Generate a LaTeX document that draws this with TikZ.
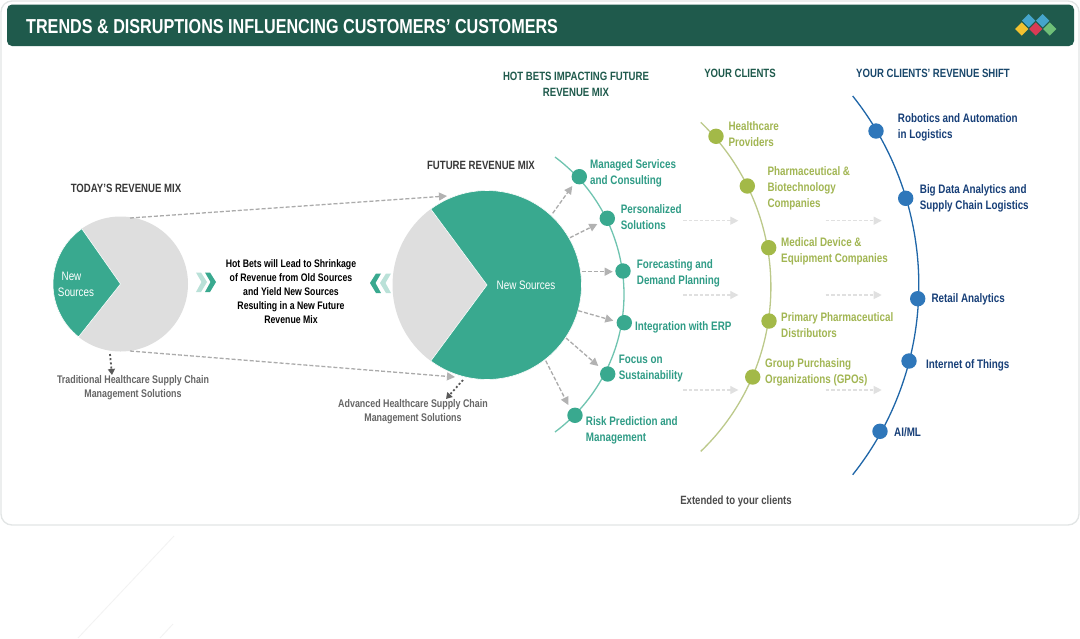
\documentclass[tikz,border=0pt]{standalone}
\usepackage{fontspec}
\setmainfont[FakeStretch=0.8,BoldFont={Liberation Sans Bold},BoldFeatures={FakeStretch=0.8}]{Liberation Sans}
\usetikzlibrary{arrows.meta,shapes.geometric}
\definecolor{headbar}{HTML}{1F5A4C}
\definecolor{tealc}{HTML}{39A98F}
\definecolor{tealtxt}{HTML}{2F9C86}
\definecolor{tealarc}{HTML}{6FC4B0}
\definecolor{olive}{HTML}{A3B948}
\definecolor{olivetxt}{HTML}{A2B653}
\definecolor{olivearc}{HTML}{BCC98A}
\definecolor{bluec}{HTML}{2F77BA}
\definecolor{bluearc}{HTML}{1F66A8}
\definecolor{bluetxt}{HTML}{173F78}
\definecolor{pie}{HTML}{DEDEDE}
\definecolor{cardline}{HTML}{E2E5E5}
\definecolor{lgblue}{HTML}{45A5CC}
\definecolor{lgyellow}{HTML}{F2C230}
\definecolor{lgred}{HTML}{D93A55}
\definecolor{lggreen}{HTML}{6FBF78}
\newcommand{\lbl}[1]{\fontsize{#1}{16}\selectfont\bfseries}
\tikzset{
  x=1pt,y=-1pt,
  tdot/.style={circle,draw=none,fill=tealc,minimum size=15.4pt,inner sep=0pt},
  odot/.style={circle,draw=none,fill=olive,minimum size=15.4pt,inner sep=0pt},
  bdot/.style={circle,draw=none,fill=bluec,minimum size=15.4pt,inner sep=0pt},
  ttext/.style={anchor=west,align=left,inner sep=0pt,yshift=-1pt,text=tealtxt,font=\lbl{12.3}},
  otext/.style={anchor=west,align=left,inner sep=0pt,yshift=-1pt,text=olivetxt,font=\lbl{12.3}},
  btext/.style={anchor=west,align=left,inner sep=0pt,yshift=-1pt,text=bluetxt,font=\lbl{12.3}},
  heading/.style={align=center,inner sep=0pt,font=\fontsize{12}{16}\selectfont\bfseries},
  greyflow/.style={draw=black!33,line width=1.3pt,dash pattern=on 4pt off 2pt,-{Triangle[length=8pt,width=8pt,color=black!30]}},
  fainttip/.style={draw=black!12,line width=1.1pt,dash pattern=on 3.5pt off 2pt,-{Triangle[length=8pt,width=8pt,color=black!12]}},
  dotflow/.style={draw=black!65,line width=1.8pt,dash pattern=on 2pt off 2.2pt,-{Triangle[length=6pt,width=7pt,color=black!65]}},
  logo/.style={diamond,minimum width=13.5pt,minimum height=13.5pt,inner sep=0pt,draw=none},
}
\begin{document}
\begin{tikzpicture}
\useasboundingbox (0,0) rectangle (1080,638);
\fill[white] (0,0) rectangle (1080,638);
% faint background lines
\draw[black!5,line width=.8pt] (174,536) -- (78,638);
\draw[black!5,line width=.8pt] (173,624) -- (160,638);
% card and header
\draw[cardline,line width=1.3pt,rounded corners=11pt] (1,1) rectangle (1079,525);
\fill[headbar,rounded corners=5pt] (7,4.5) rectangle (1074,46);
\node[anchor=west,inner sep=0pt,text=white,font=\fontsize{20.2}{22}\selectfont\bfseries] (title) at (26,27) {TRENDS \& DISRUPTIONS INFLUENCING CUSTOMERS' CUSTOMERS};
\node[logo,fill=lgblue] (lg1) at (1028.7,20.7) {};
\node[logo,fill=lgblue] (lg2) at (1042.7,20.7) {};
\node[logo,fill=lgyellow] (lg3) at (1021.7,29) {};
\node[logo,fill=lgred] (lg4) at (1035.7,29) {};
\node[logo,fill=lggreen] (lg5) at (1049.7,29) {};
% headings
\node[heading,text=headbar] (hb) at (576,84) {HOT BETS IMPACTING FUTURE\\REVENUE MIX};
\node[heading,text=headbar] (yc) at (740,73) {YOUR CLIENTS};
\node[heading,text=bluetxt!70!headbar] (ycr) at (933,73) {YOUR CLIENTS' REVENUE SHIFT};
\node[heading,text=black!78] (frm) at (481,165) {FUTURE REVENUE MIX};
\node[heading,text=black!78] (trm) at (126,188) {TODAY'S REVENUE MIX};
% pies
\coordinate (cL) at (120.5,284);
\coordinate (cF) at (487,285);
\node[circle,fill=pie,draw=none,minimum size=135pt,inner sep=0pt] (todaypie) at (cL) {};
\fill[tealc,draw=white,line width=.6pt] (cL) -- ([shift={(cL)}]-125:67.5) arc[start angle=-125,end angle=-231.6,radius=67.5] -- cycle;
\node[circle,fill=pie,draw=none,minimum size=189pt,inner sep=0pt] (futurepie) at (cF) {};
\fill[tealc,draw=white,line width=.6pt] (cF) -- ([shift={(cF)}]-126.5:94.5) arc[start angle=-126.5,end angle=126.5,radius=94.5] -- cycle;
\node[align=center,inner sep=0pt,text=white,font=\fontsize{12.3}{16}\selectfont] (ns1) at (76,284.5) {New\hspace*{9pt}\\Sources};
\node[inner sep=0pt,text=white,font=\fontsize{12.3}{16}\selectfont] (ns2) at (526,285) {New Sources};
% mix arrows
\coordinate (a1s) at (130,218); \coordinate (a1e) at (447,196);
\coordinate (a2s) at (130,351); \coordinate (a2e) at (455,377);
\draw[greyflow] (a1s) -- (a1e);
\draw[greyflow] (a2s) -- (a2e);
\coordinate (d1s) at (110,354); \coordinate (d1e) at (112,375);
\coordinate (d2s) at (463,380); \coordinate (d2e) at (446,399);
\draw[dotflow] (d1s) -- (d1e);
\draw[dotflow] (d2s) -- (d2e);
\node[align=center,inner sep=0pt,text=black!60,font=\fontsize{11.1}{14}\selectfont\bfseries] (trad) at (133,388) {Traditional Healthcare Supply Chain\\Management Solutions};
\node[align=center,inner sep=0pt,text=black!60,font=\fontsize{11.1}{14}\selectfont\bfseries] (adv) at (413,412) {Advanced Healthcare Supply Chain\\Management Solutions};
% centre text + chevrons
\node[align=center,inner sep=0pt,text=black,font=\fontsize{10.9}{14}\selectfont\bfseries] (mid) at (291,292) {Hot Bets will Lead to Shrinkage\\of Revenue from Old Sources\\and Yield New Sources\\Resulting in a New Future\\Revenue Mix};
\fill[tealc!35] (196,272.5) -- (201,272.5) -- (207,282) -- (201,292) -- (196,292) -- (201.5,282) -- cycle;
\fill[tealc] (205,272.5) -- (210,272.5) -- (216,282) -- (210,292) -- (205,292) -- (210.5,282) -- cycle;
\fill[tealc!35] (391,273.5) -- (386,273.5) -- (380,283) -- (386,293) -- (391,293) -- (385.5,283) -- cycle;
\fill[tealc] (381,273.5) -- (376,273.5) -- (370,283) -- (376,293) -- (381,293) -- (375.5,283) -- cycle;
% arcs
\draw[tealarc,line width=1.3pt] (555,157) arc[start angle=-53.3,end angle=53.3,radius=171.5];
\draw[olivearc,line width=1.3pt] (700.7,122.3) arc[start angle=-46.2,end angle=46.2,radius=228];
\draw[bluearc,line width=1.3pt] (852.7,96) arc[start angle=-38.5,end angle=38.5,radius=304.2];
% teal dots and labels
\node[tdot] (t1) at (579.3,176.7) {};
\node[tdot] (t2) at (607.3,218.3) {};
\node[tdot] (t3) at (623,271) {};
\node[tdot] (t4) at (624.3,322.7) {};
\node[tdot] (t5) at (607.7,374) {};
\node[tdot] (t6) at (575,415.3) {};
\node[ttext] (tl1) at (590,172) {Managed Services\\and Consulting};
\node[ttext] (tl2) at (620.7,216.5) {Personalized\\Solutions};
\node[ttext] (tl3) at (636.7,272) {Forecasting and\\Demand Planning};
\node[ttext] (tl4) at (635,326) {Integration with ERP};
\node[ttext] (tl5) at (618.7,368) {Focus on\\Sustainability};
\node[ttext] (tl6) at (585.7,429) {Risk Prediction and\\Management};
% teal arrows
\coordinate (p1) at (552.7,213.3); \coordinate (q1) at (572.3,186);
\coordinate (p2) at (570,237.7); \coordinate (q2) at (597.3,224);
\coordinate (p3) at (581.7,271.7); \coordinate (q3) at (612.7,271.7);
\coordinate (p4) at (578.3,310.7); \coordinate (q4) at (613.3,320.7);
\coordinate (p5) at (566,338); \coordinate (q5) at (598.3,366);
\coordinate (p6) at (545.7,360.7); \coordinate (q6) at (568.3,405);
\foreach \i in {1,...,6} {\draw[greyflow] (p\i) -- (q\i);}
% olive
\node[odot] (o1) at (716,136.3) {};
\node[odot] (o2) at (747.3,186) {};
\node[odot] (o3) at (768.7,247.7) {};
\node[odot] (o4) at (769,321) {};
\node[odot] (o5) at (752.7,377) {};
\node[otext] (ol1) at (728.3,132.7) {Healthcare\\Providers};
\node[otext] (ol2) at (767.3,187) {Pharmaceutical \&\\Biotechnology\\Companies};
\node[otext] (ol3) at (781,250) {Medical Device \&\\Equipment Companies};
\node[otext] (ol4) at (781,323.7) {Primary Pharmaceutical\\Distributors};
\node[otext] (ol5) at (765,371) {Group Purchasing\\Organizations (GPOs)};
% faint arrows
\foreach \n/\yy in {a/220.7,b/295,c/390} {
  \coordinate (f\n1) at (683.3,\yy); \coordinate (f\n2) at (738.3,\yy);
  \coordinate (g\n1) at (825.7,\yy); \coordinate (g\n2) at (881.7,\yy);
  \draw[fainttip] (f\n1) -- (f\n2);
  \draw[fainttip] (g\n1) -- (g\n2);
}
% blue
\node[bdot] (b1) at (876,131) {};
\node[bdot] (b2) at (905.7,198.3) {};
\node[bdot] (b3) at (917.7,298.7) {};
\node[bdot] (b4) at (909,361) {};
\node[bdot] (b5) at (880,431.3) {};
\node[btext] (bl1) at (897.7,126) {Robotics and Automation\\in Logistics};
\node[btext] (bl2) at (919.7,197.7) {Big Data Analytics and\\Supply Chain Logistics};
\node[btext] (bl3) at (931.3,298.7) {Retail Analytics};
\node[btext] (bl4) at (926,364) {Internet of Things};
\node[btext] (bl5) at (894,431) {AI/ML};
\node[inner sep=0pt,text=black!70,font=\fontsize{12}{16}\selectfont\bfseries] (ext) at (736,501) {Extended to your clients};
\end{tikzpicture}
\end{document}
